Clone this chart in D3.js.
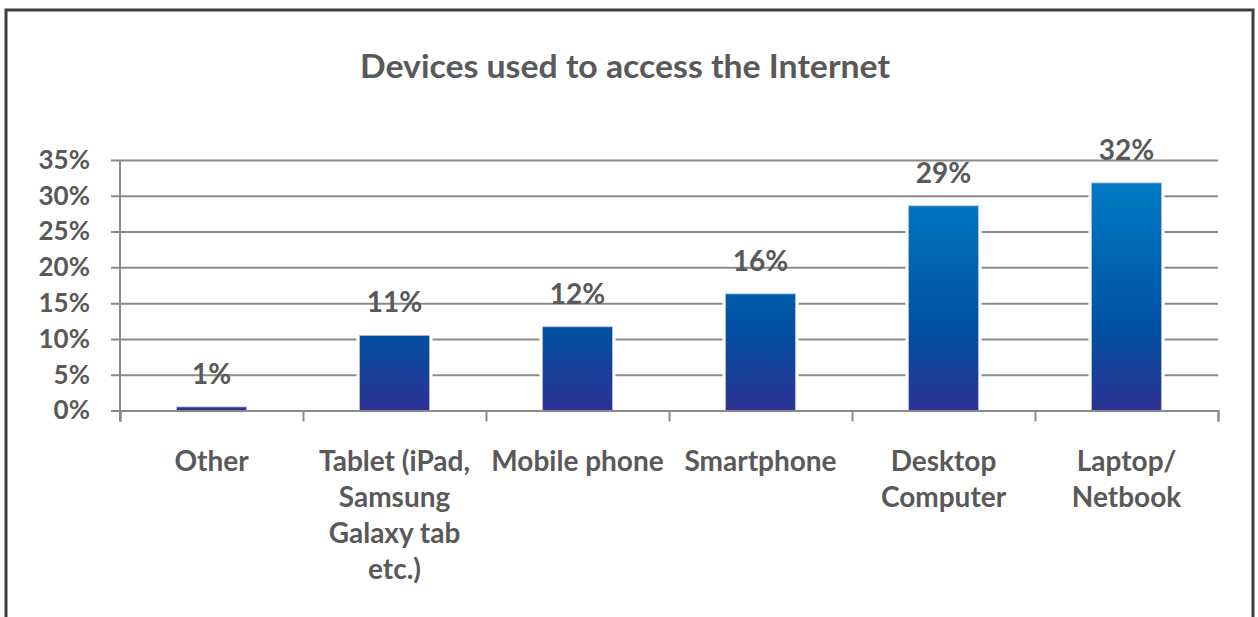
<!DOCTYPE html>
<html>
<head>
<meta charset="utf-8">
<script src="https://cdn.jsdelivr.net/npm/d3@7"></script>
<style>
  html, body { margin: 0; padding: 0; background: #ffffff; }
  svg { display: block; }
  text { font-family: Lato, "Open Sans", sans-serif; font-weight: 700; fill: #595959; }
</style>
</head>
<body>
<svg id="chart" width="1258" height="617"></svg>
<script>
// Share of respondents by device used to access the Internet (percent)
const categories = ["Other", "Tablet (iPad, Samsung Galaxy tab etc.)", "Mobile phone", "Smartphone", "Desktop Computer", "Laptop/ Netbook"];
const categoryLines = [
  ["Other"],
  ["Tablet (iPad,", "Samsung", "Galaxy tab", "etc.)"],
  ["Mobile phone"],
  ["Smartphone"],
  ["Desktop", "Computer"],
  ["Laptop/", "Netbook"]
];
const values = [0.5, 10.5, 11.7, 16.3, 28.6, 31.8];
const yTicks = [0, 5, 10, 15, 20, 25, 30, 35];
const title = "Devices used to access the Internet";

const svg = d3.select("#chart");
const W = 1258, H = 617;
const plot = { left: 120, right: 1218, top: 160, bottom: 410.5 };

svg.append("rect").attr("width", W).attr("height", H).attr("fill", "#ffffff");

// Outer chart frame (runs past the bottom edge)
svg.append("rect")
  .attr("x", 6).attr("y", 10)
  .attr("width", 1247).attr("height", 700)
  .attr("fill", "none")
  .attr("stroke", "#3f3f3f")
  .attr("stroke-width", 3);

// Title
svg.append("text")
  .attr("x", 625).attr("y", 78)
  .attr("text-anchor", "middle")
  .attr("font-size", 32)
  .attr("textLength", 530)
  .attr("lengthAdjust", "spacingAndGlyphs")
  .text(title);

const y = d3.scaleLinear().domain([0, 35]).range([plot.bottom, plot.top]);
const x = d3.scaleBand()
  .domain(categories)
  .range([plot.left, plot.right])
  .paddingInner(0.617)
  .paddingOuter(0.3085);
const xEdge = d3.scaleLinear().domain([0, categories.length]).range([plot.left, plot.right]);

// Bar gradient, laid out across the whole plot height
const defs = svg.append("defs");
const grad = defs.append("linearGradient")
  .attr("id", "barFill")
  .attr("gradientUnits", "userSpaceOnUse")
  .attr("x1", 0).attr("x2", 0)
  .attr("y1", plot.bottom).attr("y2", plot.top);
grad.append("stop").attr("offset", "0%").attr("stop-color", "#2e3192");
grad.append("stop").attr("offset", "32%").attr("stop-color", "#0050a2");
grad.append("stop").attr("offset", "100%").attr("stop-color", "#0082ca");

// Value axis with gridlines
const yAxis = d3.axisLeft(y)
  .tickValues(yTicks)
  .tickSize(plot.right - 111)
  .tickPadding(21)
  .tickFormat(d => d + "%");
const gy = svg.append("g")
  .attr("transform", `translate(${plot.right},0)`)
  .call(yAxis);
gy.select(".domain").remove();
gy.selectAll(".tick line").attr("stroke", "#8a8a8a").attr("stroke-width", 2);
gy.selectAll(".tick text")
  .attr("font-size", 26)
  .attr("font-family", "Lato, sans-serif")
  .attr("font-weight", 700)
  .attr("fill", "#595959");

// Vertical axis line
svg.append("line")
  .attr("x1", plot.left).attr("x2", plot.left)
  .attr("y1", y(35)).attr("y2", plot.bottom + 11)
  .attr("stroke", "#8a8a8a").attr("stroke-width", 2);

// White halo around bars that breaks the gridlines
svg.append("g").selectAll("rect")
  .data(values)
  .join("rect")
  .attr("x", (d, i) => x(categories[i]) - 3)
  .attr("y", d => y(d) - 3)
  .attr("width", x.bandwidth() + 6)
  .attr("height", d => plot.bottom - y(d) + 3)
  .attr("fill", "#ffffff");

// Bars
svg.append("g").selectAll("rect")
  .data(values)
  .join("rect")
  .attr("x", (d, i) => x(categories[i]))
  .attr("y", d => y(d))
  .attr("width", x.bandwidth())
  .attr("height", d => plot.bottom - y(d))
  .attr("fill", "url(#barFill)")
  .attr("stroke", "#b9c3e3")
  .attr("stroke-width", 0.8);

// Category axis with tick marks between categories
const xAxis = d3.axisBottom(xEdge)
  .tickValues(d3.range(categories.length + 1))
  .tickSize(11)
  .tickFormat("");
const gx = svg.append("g")
  .attr("transform", `translate(0,${plot.bottom})`)
  .call(xAxis);
gx.select(".domain").attr("stroke", "#8a8a8a").attr("stroke-width", 2);
gx.selectAll(".tick line").attr("stroke", "#8a8a8a").attr("stroke-width", 2);

// Category labels
const labels = svg.append("g").selectAll("text")
  .data(categoryLines)
  .join("text")
  .attr("text-anchor", "middle")
  .attr("font-size", 28)
  .attr("transform", (d, i) => `translate(${x(categories[i]) + x.bandwidth() / 2},471)`);
labels.selectAll("tspan")
  .data(d => d)
  .join("tspan")
  .attr("x", 0)
  .attr("y", (d, j) => j * 36)
  .text(d => d);

// Data labels
svg.append("g").selectAll("text")
  .data(values)
  .join("text")
  .attr("x", (d, i) => x(categories[i]) + x.bandwidth() / 2)
  .attr("y", d => y(d) - 23)
  .attr("text-anchor", "middle")
  .attr("font-size", 28)
  .text(d => Math.round(d) + "%");
</script>
</body>
</html>
